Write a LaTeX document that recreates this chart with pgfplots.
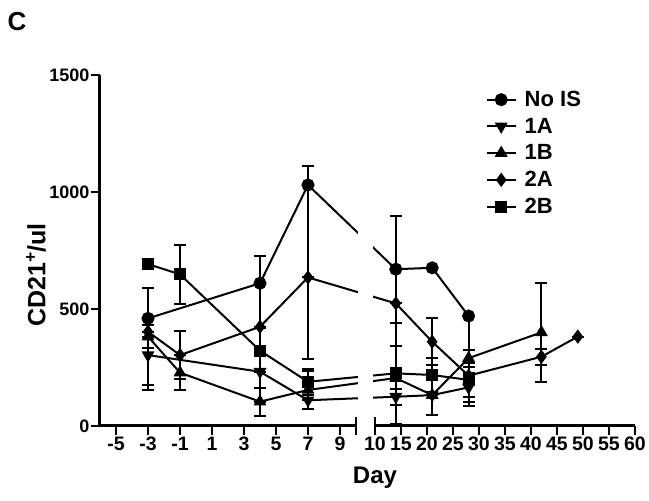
\documentclass[border=0pt]{standalone}
\usepackage{pgfplots}
\pgfplotsset{compat=1.18}
\usepackage{fontspec}
\setmainfont{Liberation Sans}
% tick labels are set in text mode, bold Liberation Sans
\newcommand\xt[1]{\mbox{\fontsize{19.5}{21}\selectfont\bfseries #1}}
\newcommand\yt[1]{\mbox{\fontsize{18}{20}\selectfont\bfseries #1}}

\begin{document}
\begin{tikzpicture}
\useasboundingbox (-100pt,-75pt) rectangle (549pt,426pt);
\begin{axis}[
  at={(0,0)}, anchor=south west,
  scale only axis, width=535pt, height=351pt,
  xmin=-6, xmax=60, ymin=0, ymax=1500,
  % broken day axis: -6..10 wide, 10..60 compressed
  x coord trafo/.code={\pgfmathparse{(#1<9.99)*(16*#1+196)+(#1>9.99)*(5.2*#1+323)}},
  clip=false,
  axis x line=bottom, axis y line=left,
  x axis line style={draw=none},
  y axis line style={line width=3pt,-},
  tick align=outside, major tick length=9pt,
  every tick/.style={black, line width=2.5pt},
  xtick={-5,-3,-1,1,3,5,7,9,10,15,20,25,30,35,40,45,50,55,60},
  xticklabels={\xt{-5},\xt{-3},\xt{-1},\xt{1},\xt{3},\xt{5},\xt{7},\xt{9},\xt{10},\xt{15},\xt{20},\xt{25},\xt{30},\xt{35},\xt{40},\xt{45},\xt{50},\xt{55},\xt{60}},
  ytick={0,500,1000,1500},
  yticklabels={\yt{0},\yt{500},\yt{1000},\yt{1500}},
  xticklabel style={inner xsep=0pt, inner ysep=2pt},
  yticklabel style={inner xsep=1.5pt},
  every axis plot/.append style={line width=2pt, mark size=5.5pt},
  error bars/y dir=both, error bars/y explicit,
  error bars/error bar style={line width=2pt},
  error bars/error mark options={rotate=90, mark size=6pt, line width=2pt},
  legend style={at={(rel axis cs:0.715,0.96)}, anchor=north west, draw=none, fill=none,
    font=\bfseries\fontsize{22}{24}\selectfont, row sep=10pt, cells={anchor=west},
    nodes={inner xsep=8pt, inner ysep=0pt}},
  legend image code/.code={\draw[mark repeat=2,mark phase=2] plot coordinates {(0pt,0pt)(14.5pt,0pt)(29pt,0pt)};},
]
\addplot[black, mark=*, mark options={solid}] coordinates {
  (-3,460) +- (0,128)
  (4,610) += (0,118) -= (0,190)
  (7,1030) += (0,82) -= (0,395)
  (14,670) +- (0,229)
  (21,676) +- (0,0)
  (28,470) += (0,0) -= (0,383)
};
\addlegendentry{No IS}
\addplot[black, mark=triangle*, mark options={solid, rotate=180}] coordinates {
  (-3,303) +- (0,128)
  (4,232) +- (0,0)
  (7,110) +- (0,0)
  (14,125) +- (0,35)
  (21,132) +- (0,0)
  (28,165) +- (0,61)
};
\addlegendentry{1A}
\addplot[black, mark=triangle*, mark options={solid}] coordinates {
  (-3,382) += (0,0) -= (0,228)
  (-1,228) +- (0,74)
  (4,104) +- (0,60)
  (7,154) +- (0,83)
  (14,205) +- (0,0)
  (21,132) +- (0,85)
  (28,290) +- (0,36)
  (42,400) +- (0,213)
};
\addlegendentry{1B}
\addplot[black, mark=diamond*, mark options={solid}] coordinates {
  (-3,403) +- (0,0)
  (-1,303) +- (0,103)
  (4,424) +- (0,0)
  (7,635) += (0,0) -= (0,350)
  (14,524) += (0,0) -= (0,182)
  (21,360) +- (0,100)
  (28,215) +- (0,0)
  (42,296) +- (0,35)
  (49,382) +- (0,0)
};
\addlegendentry{2A}
\addplot[black, mark=square*, mark size=5pt, mark options={solid}] coordinates {
  (-3,692) +- (0,15)
  (-1,648) +- (0,125)
  (4,322) += (0,98) -= (0,220)
  (7,189) +- (0,55)
  (14,225) +- (0,215)
  (21,218) +- (0,71)
  (28,197) +- (0,73)
};
\addlegendentry{2B}
% gap of the broken axis
\fill[white] (rel axis cs:0.4822,0.004) rectangle (rel axis cs:0.5103,0.98);
\draw[line width=3pt] (rel axis cs:0,0) -- (rel axis cs:0.4785,0);
\draw[line width=3pt] (rel axis cs:0.514,0) -- (rel axis cs:1,0);
\draw[line width=2.5pt] ([yshift=-9pt]rel axis cs:0.4785,0) -- ([yshift=9pt]rel axis cs:0.4785,0);
\draw[line width=2.5pt] ([yshift=-9pt]rel axis cs:0.514,0) -- ([yshift=9pt]rel axis cs:0.514,0);
\end{axis}
\node[font=\bfseries\fontsize{26}{28}\selectfont] at (-83pt,404pt) {C};
\node[font=\bfseries\fontsize{25}{27}\selectfont, rotate=90] at (-64pt,151pt) {CD21\textsuperscript{+}/ul};
\node[font=\bfseries\fontsize{24}{26}\selectfont] at (275pt,-52pt) {Day};
\end{tikzpicture}
\end{document}
